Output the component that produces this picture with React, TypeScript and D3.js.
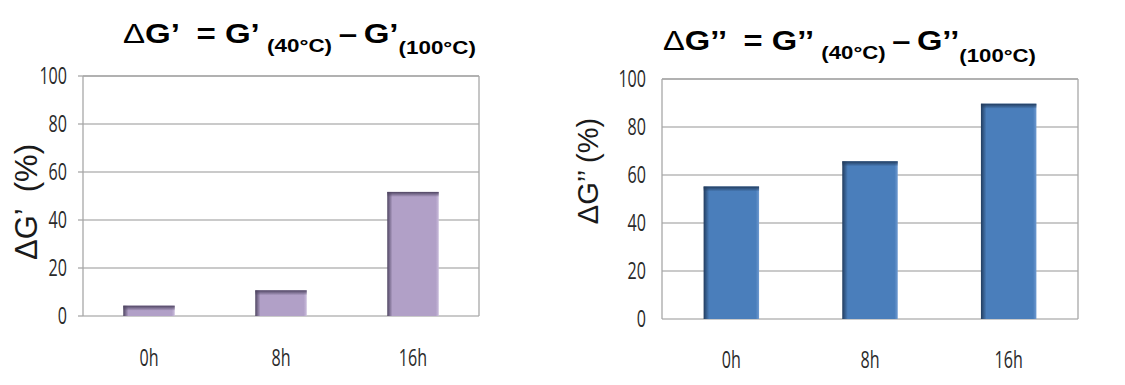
import React from "react";
import * as d3 from "d3";

const categories = ["0h", "8h", "16h"];
const gPrimeValues = [4.3, 10.7, 51.7];
const gDoublePrimeValues = [55.2, 65.7, 89.7];
const yTicks = [0, 20, 40, 60, 80, 100];

const TICK_FONT = "'Open Sans', 'Noto Sans', sans-serif";
const TITLE_FONT = "'Liberation Sans', Arial, sans-serif";

type PanelProps = {
  id: string;
  values: number[];
  x0: number;
  x1: number;
  y0: number;
  y1: number;
  barFrac: number;
  main: string;
  dark: string;
  light: string;
  prime: string;
  yTitle: string;
  titleX: number;
  titleY: number;
  titleW: number;
  sub2Drop: number;
  yTitleX: number;
  yTitleY: number;
  yTitleSize: number;
  xLabelY: number;
  showTicks: boolean;
};

function CondText(props: { x: number; y: number; anchor: string; children: React.ReactNode }) {
  return (
    <g transform={`translate(${props.x},${props.y}) scale(0.7,1)`}>
      <text textAnchor={props.anchor} fontFamily={TICK_FONT} fontSize={23} fill="#2a2a2a">
        {props.children}
      </text>
    </g>
  );
}

function Panel(p: PanelProps) {
  const x = d3.scaleBand<string>().domain(categories).range([p.x0, p.x1]).padding(0);
  const y = d3.scaleLinear().domain([0, 100]).range([p.y1, p.y0]);
  const bw = x.bandwidth() * p.barFrac;
  return (
    <g>
      <defs>
        <linearGradient id={`${p.id}-h`} x1="0" x2="1" y1="0" y2="0">
          <stop offset="0" stopColor={p.dark} />
          <stop offset="0.1" stopColor={p.main} />
          <stop offset="0.94" stopColor={p.main} />
          <stop offset="1" stopColor={p.light} />
        </linearGradient>
        <linearGradient id={`${p.id}-v`} x1="0" x2="0" y1="0" y2="1">
          <stop offset="0" stopColor={p.dark} stopOpacity={1} />
          <stop offset="1" stopColor={p.dark} stopOpacity={0} />
        </linearGradient>
      </defs>
      {yTicks.map((t) => (
        <g key={t}>
          <line x1={p.x0} x2={p.x1} y1={y(t)} y2={y(t)} stroke="#b8b8b8" strokeWidth={1.3} />
          {p.showTicks && (
            <line x1={p.x0 - 5} x2={p.x0} y1={y(t)} y2={y(t)} stroke="#a0a0a0" strokeWidth={1.2} />
          )}
          <CondText x={p.x0 - 16} y={y(t) + 8} anchor="end">
            {t}
          </CondText>
        </g>
      ))}
      <line x1={p.x0} x2={p.x0} y1={p.y0} y2={p.y1} stroke="#a8a8a8" strokeWidth={1.3} />
      <line x1={p.x1} x2={p.x1} y1={p.y0} y2={p.y1} stroke="#a8a8a8" strokeWidth={1.3} />
      <line x1={p.x0} x2={p.x1} y1={p.y0} y2={p.y0} stroke="#a8a8a8" strokeWidth={1.3} />
      {categories.map((c, i) => {
        const cx = (x(c) as number) + x.bandwidth() / 2;
        const top = y(p.values[i]);
        const h = y(0) - top;
        return (
          <g key={c}>
            <rect x={cx - bw / 2} y={top} width={bw} height={h} fill={`url(#${p.id}-h)`} />
            <rect x={cx - bw / 2} y={top} width={bw} height={Math.min(5, h)} fill={`url(#${p.id}-v)`} />
            <CondText x={cx} y={p.xLabelY} anchor="middle">
              {c}
            </CondText>
          </g>
        );
      })}
      <text
        transform={`translate(${p.yTitleX},${p.yTitleY}) rotate(-90)`}
        textAnchor="middle"
        dy="0.36em"
        fontFamily={TITLE_FONT}
        fontSize={p.yTitleSize}
        fill="#1a1a1a"
        style={{ whiteSpace: "pre" }}
      >
        {p.yTitle}
      </text>
      <text
        x={p.titleX}
        y={p.titleY}
        fontFamily={TITLE_FONT}
        fill="#000"
        fontWeight="bold"
        textLength={p.titleW}
        lengthAdjust="spacingAndGlyphs"
        style={{ whiteSpace: "pre" }}
      >
        <tspan fontSize={28} fontWeight="normal">Δ</tspan>
        <tspan fontSize={28}>{`G${p.prime}  = G${p.prime} `}</tspan>
        <tspan fontSize={19} dy={9}>{"(40°C)"}</tspan>
        <tspan fontSize={28} dy={-9}>{"\u2009–\u2009G" + p.prime}</tspan>
        <tspan fontSize={19} dy={p.sub2Drop}>{"(100°C)"}</tspan>
      </text>
    </g>
  );
}

export default function App() {
  return (
    <svg width={1125} height={385} style={{ position: "absolute", left: 0, top: 0, background: "#fff" }}>
      <rect width={1125} height={385} fill="#fff" />
      <Panel
        id="left"
        values={gPrimeValues}
        x0={83}
        x1={479}
        y0={76}
        y1={316}
        barFrac={0.39}
        main="#b1a0c7"
        dark="#4f4562"
        light="#c9bcdb"
        prime="’"
        yTitle={"ΔG’  (%)"}
        titleX={123}
        titleY={43}
        titleW={353}
        sub2Drop={11}
        yTitleX={26}
        yTitleY={202}
        yTitleSize={31}
        xLabelY={366}
        showTicks={true}
      />
      <Panel
        id="right"
        values={gDoublePrimeValues}
        x0={662}
        x1={1078}
        y0={79}
        y1={319}
        barFrac={0.4}
        main="#4a7ebb"
        dark="#223c5e"
        light="#6f9ad0"
        prime="’’"
        yTitle={"ΔG’’ (%)"}
        titleX={663}
        titleY={50}
        titleW={373}
        sub2Drop={12}
        yTitleX={588}
        yTitleY={171}
        yTitleSize={29}
        xLabelY={368}
        showTicks={false}
      />
    </svg>
  );
}
